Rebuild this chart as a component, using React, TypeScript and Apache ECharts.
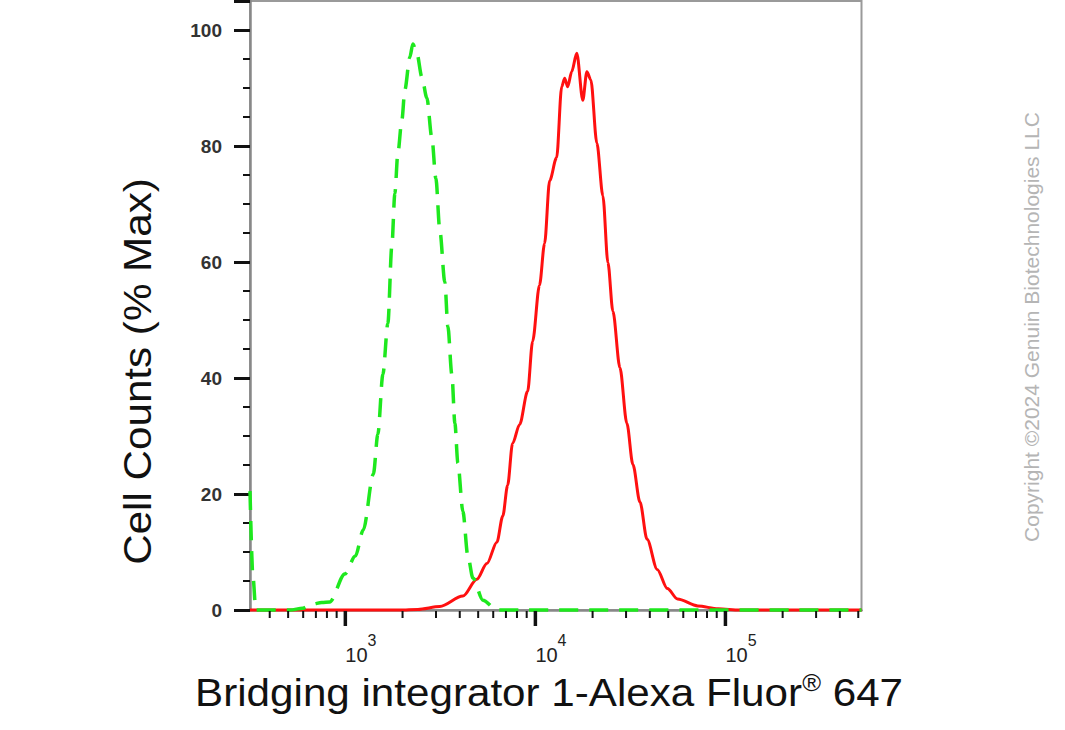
import React, { useEffect, useRef } from 'react';
import * as echarts from 'echarts';

const X_MIN = 315;
const X_MAX = 520000;
const Y_MIN = 0;
const Y_MAX = 105;

const RED_X = [315, 1936, 2408, 3144, 4153, 4922, 5556, 6272, 6737, 7144, 7583, 8265, 9104, 9668, 10510, 11180, 11880, 12940, 13750, 14260, 14790, 15520, 16510, 17760, 18660, 19580, 21060, 22660, 24080, 25580, 27840, 30290, 32590, 35510, 38690, 43760, 49490, 55970, 71580, 91530, 119000, 520000];
const RED_Y = [0, 0, 0.1, 0.6, 2.4, 5.3, 8.0, 11.7, 16.2, 21.5, 28.7, 32.0, 37.7, 46.3, 56.0, 63.2, 74.0, 78.0, 90.2, 91.7, 90.2, 92.8, 96.0, 87.9, 92.8, 91.4, 80.5, 71.4, 59.9, 51.5, 41.8, 32.2, 25.1, 18.6, 12.2, 7.0, 3.7, 1.9, 0.7, 0.2, 0, 0];

const GREEN_X = [315, 326, 338, 511, 597, 666, 752, 828, 994, 1129, 1243, 1404, 1483, 1576, 1674, 1757, 1822, 1890, 1984, 2057, 2185, 2266, 2378, 2527, 2685, 2853, 2995, 3143, 3339, 3463, 3635, 3771, 3910, 4154, 4413, 4691, 5293, 6272, 520000];
const GREEN_Y = [20.5, 6, 0, 0, 0.3, 1.0, 1.3, 1.4, 6.2, 9.3, 13.8, 23.4, 30.3, 40.6, 49.4, 62.8, 71.8, 78.8, 84.5, 89.7, 95.3, 97.6, 96.0, 91.9, 88.3, 81.4, 74.4, 65.4, 56.5, 48.9, 40.6, 32.2, 25.3, 17.0, 9.3, 5.5, 1.7, 0, 0];

const X_MAJOR_TICKS = [1000, 10000, 100000];
const X_MINOR_TICKS = [
  400, 500, 600, 700, 800, 900,
  2000, 3000, 4000, 5000, 6000, 7000, 8000, 9000,
  20000, 30000, 40000, 50000, 60000, 70000, 80000, 90000,
  200000, 300000, 400000, 500000,
];

const Y_INTERVAL = 20;

const X_TITLE_MAIN = 'Bridging integrator 1-Alexa Fluor';
const X_TITLE_SUP = '®';
const X_TITLE_END = ' 647';
const Y_TITLE = 'Cell Counts (% Max)';
const COPYRIGHT = 'Copyright ©2024 Genuin Biotechnologies LLC';

const FONT = '"Liberation Sans", Arial, Helvetica, sans-serif';

export default function App() {
  const ref = useRef<HTMLDivElement>(null);

  useEffect(() => {
    if (!ref.current) return;
    const chart = echarts.init(ref.current, null, { renderer: 'svg' });

    const tickSeries = (ticks: number[], len: number, width: number) => ({
      type: 'custom',
      coordinateSystem: 'cartesian2d',
      silent: true,
      z: 10,
      clip: false,
      data: ticks.map((v) => [v, 0]),
      encode: { x: 0, y: 1 },
      renderItem: (_params: any, api: any) => {
        const p = api.coord([api.value(0), 0]);
        return {
          type: 'line',
          shape: { x1: p[0], y1: p[1] + 1, x2: p[0], y2: p[1] + len },
          style: { stroke: '#111', lineWidth: width },
        };
      },
    });

    chart.setOption({
      animation: false,
      backgroundColor: '#ffffff',
      grid: {
        left: 250,
        right: 203.5,
        top: 1,
        bottom: 120,
        show: true,
        borderColor: '#9a9a9a',
        borderWidth: 2,
        backgroundColor: 'transparent',
      },
      xAxis: {
        type: 'log',
        logBase: 10,
        min: X_MIN,
        max: X_MAX,
        axisLine: { show: true, lineStyle: { color: '#888', width: 2.5 } },
        axisTick: { show: false },
        minorTick: { show: false },
        splitLine: { show: false },
        axisLabel: {
          margin: 37,
          align: 'left',
          formatter: (val: number) => {
            const e = Math.log10(val);
            if (Math.abs(e - Math.round(e)) < 1e-6) return `{b|10}{s|${Math.round(e)}}`;
            return '';
          },
          rich: {
            b: { fontSize: 20, lineHeight: 18, fontFamily: FONT, color: '#222', verticalAlign: 'bottom' },
            s: { fontSize: 16, lineHeight: 16, fontFamily: FONT, color: '#222', verticalAlign: 'bottom', padding: [0, 0, 17, 0] },
          },
        },
      },
      yAxis: {
        type: 'value',
        min: Y_MIN,
        max: Y_MAX,
        interval: Y_INTERVAL,
        axisLine: { show: true, lineStyle: { color: '#888', width: 2.5 } },
        axisTick: { show: true, length: 16, lineStyle: { color: '#111', width: 3 } },
        minorTick: { show: true, splitNumber: 4, length: 7, lineStyle: { color: '#111', width: 2 } },
        splitLine: { show: false },
        axisLabel: {
          margin: 28,
          fontSize: 19,
          fontWeight: 'bold',
          color: '#333',
          fontFamily: FONT,
          showMaxLabel: false,
        },
      },
      series: [
        {
          type: 'line',
          data: RED_X.map((x, i) => [x, RED_Y[i]]),
          showSymbol: false,
          symbol: 'none',
          clip: false,
          smooth: 0.3,
          smoothMonotone: 'x',
          z: 5,
          lineStyle: { color: '#ff1010', width: 3 },
        },
        {
          type: 'line',
          data: GREEN_X.map((x, i) => [x, GREEN_Y[i]]),
          showSymbol: false,
          symbol: 'none',
          clip: false,
          smooth: 0.3,
          smoothMonotone: 'x',
          z: 6,
          lineStyle: { color: '#1ee81e', width: 3.5, type: [19, 11], cap: 'butt' },
        },
        tickSeries(X_MAJOR_TICKS, 16, 3.5),
        tickSeries(X_MINOR_TICKS, 8, 2),
      ],
      graphic: [
        {
          type: 'text',
          x: 549,
          y: 690,
          scaleX: 1.11,
          style: {
            text: `{a|${X_TITLE_MAIN}}{r|${X_TITLE_SUP}}{a|${X_TITLE_END}}`,
            align: 'center',
            verticalAlign: 'middle',
            rich: {
              a: { fontSize: 38, lineHeight: 44, fontFamily: FONT, fill: '#111', verticalAlign: 'bottom' },
              r: { fontSize: 23, lineHeight: 24, fontFamily: FONT, fill: '#111', verticalAlign: 'bottom', padding: [0, 0, 18, 0] },
            },
          },
        },
        {
          type: 'text',
          x: 138,
          y: 371.5,
          rotation: Math.PI / 2,
          scaleX: 1.11,
          style: {
            text: Y_TITLE,
            fontSize: 38,
            fontFamily: FONT,
            fill: '#111',
            align: 'center',
            verticalAlign: 'middle',
          },
        },
        {
          type: 'text',
          x: 1031,
          y: 327,
          rotation: Math.PI / 2,
          style: {
            text: COPYRIGHT,
            fontSize: 21,
            fontFamily: FONT,
            fill: '#b5b5b5',
            align: 'center',
            verticalAlign: 'middle',
          },
        },
      ],
    });

    return () => chart.dispose();
  }, []);

  return <div ref={ref} style={{ position: 'absolute', left: 0, top: 0, width: 1065, height: 730 }} />;
}
